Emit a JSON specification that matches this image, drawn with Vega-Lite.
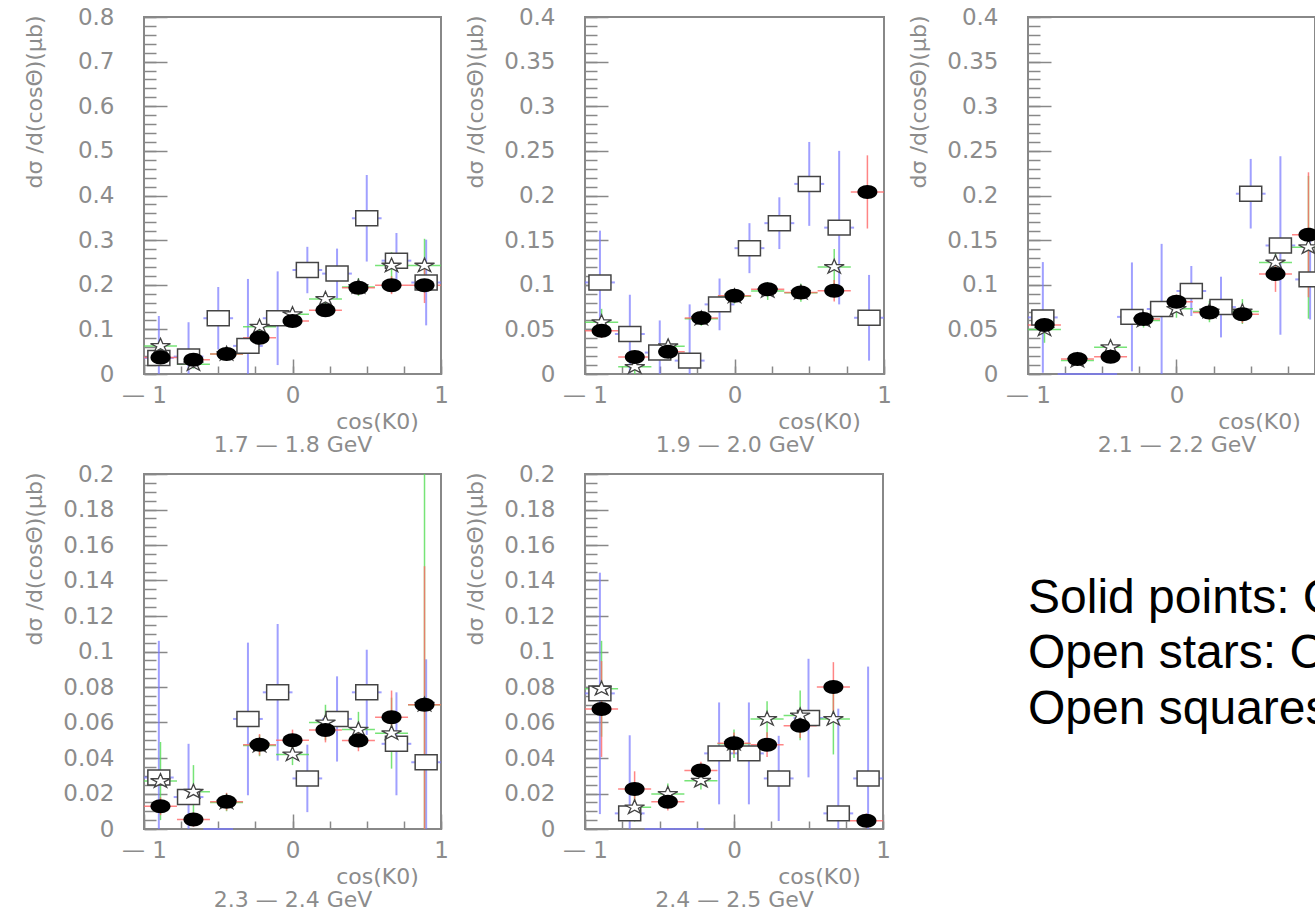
{
"$schema": "https://vega.github.io/schema/vega-lite/v6.json",
"padding": {"left": 22, "top": 5, "right": 0, "bottom": 0},
"config": {
  "view": {"stroke": "#888888", "strokeWidth": 2},
  "font": "DejaVu Sans",
  "axis": {"domain": false, "grid": false, "tickColor": "#888888", "tickWidth": 1.5,
    "labelFont": "DejaVu Sans", "labelFontSize": 23, "labelColor": "#8c8c8c",
    "labelFlush": false, "labelOverlap": false, "labelBound": false,
    "titleFont": "DejaVu Sans", "titleFontSize": 22, "titleColor": "#8c8c8c", "titleFontWeight": "normal", "format": "~g"}
},
"datasets": {
"p1": [
{"s":"solid","x":-0.889,"y":0.037,"e":0.01,"bw":0.111},
{"s":"solid","x":-0.667,"y":0.032,"e":0.008,"bw":0.111},
{"s":"solid","x":-0.444,"y":0.045,"e":0.008,"bw":0.111},
{"s":"solid","x":-0.222,"y":0.081,"e":0.01,"bw":0.111},
{"s":"solid","x":0,"y":0.119,"e":0.01,"bw":0.111},
{"s":"solid","x":0.222,"y":0.143,"e":0.012,"bw":0.111},
{"s":"solid","x":0.444,"y":0.193,"e":0.015,"bw":0.111},
{"s":"solid","x":0.667,"y":0.199,"e":0.02,"bw":0.111},
{"s":"solid","x":0.889,"y":0.199,"e":0.04,"bw":0.111},
{"s":"star","x":-0.889,"y":0.063,"e":0.015,"bw":0.111},
{"s":"star","x":-0.667,"y":0.022,"e":0.01,"bw":0.111},
{"s":"star","x":-0.444,"y":0.045,"e":0.01,"bw":0.111},
{"s":"star","x":-0.222,"y":0.106,"e":0.012,"bw":0.111},
{"s":"star","x":0,"y":0.134,"e":0.012,"bw":0.111},
{"s":"star","x":0.222,"y":0.168,"e":0.015,"bw":0.111},
{"s":"star","x":0.444,"y":0.195,"e":0.02,"bw":0.111},
{"s":"star","x":0.667,"y":0.243,"e":0.03,"bw":0.111},
{"s":"star","x":0.889,"y":0.243,"e":0.06,"bw":0.111},
{"s":"square","x":-0.9,"y":0.036,"e":0.094,"bw":0.1},
{"s":"square","x":-0.7,"y":0.039,"e":0.077,"bw":0.1},
{"s":"square","x":-0.5,"y":0.125,"e":0.07,"bw":0.1},
{"s":"square","x":-0.3,"y":0.063,"e":0.15,"bw":0.1},
{"s":"square","x":-0.1,"y":0.125,"e":0.105,"bw":0.1},
{"s":"square","x":0.1,"y":0.233,"e":0.052,"bw":0.1},
{"s":"square","x":0.3,"y":0.225,"e":0.056,"bw":0.1},
{"s":"square","x":0.5,"y":0.349,"e":0.097,"bw":0.1},
{"s":"square","x":0.7,"y":0.254,"e":0.062,"bw":0.1},
{"s":"square","x":0.9,"y":0.205,"e":0.096,"bw":0.1}
],
"p2": [
{"s":"solid","x":-0.889,"y":0.0485,"e":0.008,"bw":0.111},
{"s":"solid","x":-0.667,"y":0.019,"e":0.005,"bw":0.111},
{"s":"solid","x":-0.444,"y":0.025,"e":0.006,"bw":0.111},
{"s":"solid","x":-0.222,"y":0.0627,"e":0.006,"bw":0.111},
{"s":"solid","x":0,"y":0.0877,"e":0.006,"bw":0.111},
{"s":"solid","x":0.222,"y":0.095,"e":0.007,"bw":0.111},
{"s":"solid","x":0.444,"y":0.0914,"e":0.008,"bw":0.111},
{"s":"solid","x":0.667,"y":0.0933,"e":0.012,"bw":0.111},
{"s":"solid","x":0.889,"y":0.204,"e":0.041,"bw":0.111},
{"s":"star","x":-0.889,"y":0.058,"e":0.015,"bw":0.111},
{"s":"star","x":-0.667,"y":0.008,"e":0.008,"bw":0.111},
{"s":"star","x":-0.444,"y":0.031,"e":0.008,"bw":0.111},
{"s":"star","x":-0.222,"y":0.062,"e":0.008,"bw":0.111},
{"s":"star","x":0,"y":0.087,"e":0.008,"bw":0.111},
{"s":"star","x":0.222,"y":0.093,"e":0.01,"bw":0.111},
{"s":"star","x":0.444,"y":0.091,"e":0.01,"bw":0.111},
{"s":"star","x":0.667,"y":0.12,"e":0.02,"bw":0.111},
{"s":"square","x":-0.9,"y":0.1026,"e":0.058,"bw":0.1},
{"s":"square","x":-0.7,"y":0.0448,"e":0.044,"bw":0.1},
{"s":"square","x":-0.5,"y":0.024,"e":0.036,"bw":0.1},
{"s":"square","x":-0.3,"y":0.015,"e":0.063,"bw":0.1},
{"s":"square","x":-0.1,"y":0.078,"e":0.029,"bw":0.1},
{"s":"square","x":0.1,"y":0.141,"e":0.028,"bw":0.1},
{"s":"square","x":0.3,"y":0.169,"e":0.029,"bw":0.1},
{"s":"square","x":0.5,"y":0.213,"e":0.047,"bw":0.1},
{"s":"square","x":0.7,"y":0.164,"e":0.086,"bw":0.1},
{"s":"square","x":0.9,"y":0.063,"e":0.048,"bw":0.1}
],
"p3": [
{"s":"solid","x":-0.889,"y":0.0549,"e":0.008,"bw":0.111},
{"s":"solid","x":-0.667,"y":0.0168,"e":0.005,"bw":0.111},
{"s":"solid","x":-0.444,"y":0.0194,"e":0.006,"bw":0.111},
{"s":"solid","x":-0.222,"y":0.0616,"e":0.007,"bw":0.111},
{"s":"solid","x":0,"y":0.081,"e":0.008,"bw":0.111},
{"s":"solid","x":0.222,"y":0.069,"e":0.008,"bw":0.111},
{"s":"solid","x":0.444,"y":0.067,"e":0.01,"bw":0.111},
{"s":"solid","x":0.667,"y":0.112,"e":0.02,"bw":0.111},
{"s":"solid","x":0.889,"y":0.156,"e":0.07,"bw":0.111},
{"s":"star","x":-0.889,"y":0.05,"e":0.015,"bw":0.111},
{"s":"star","x":-0.667,"y":0.015,"e":0.006,"bw":0.111},
{"s":"star","x":-0.444,"y":0.03,"e":0.008,"bw":0.111},
{"s":"star","x":-0.222,"y":0.06,"e":0.008,"bw":0.111},
{"s":"star","x":0,"y":0.073,"e":0.01,"bw":0.111},
{"s":"star","x":0.222,"y":0.07,"e":0.012,"bw":0.111},
{"s":"star","x":0.444,"y":0.07,"e":0.014,"bw":0.111},
{"s":"star","x":0.667,"y":0.125,"e":0.02,"bw":0.111},
{"s":"star","x":0.889,"y":0.142,"e":0.08,"bw":0.111},
{"s":"square","x":-0.9,"y":0.0634,"e":0.062,"bw":0.1},
{"s":"square","x":-0.7,"y":0,"e":0,"bw":0.1},
{"s":"square","x":-0.5,"y":0,"e":0,"bw":0.1},
{"s":"square","x":-0.3,"y":0.064,"e":0.061,"bw":0.1},
{"s":"square","x":-0.1,"y":0.0728,"e":0.073,"bw":0.1},
{"s":"square","x":0.1,"y":0.093,"e":0.028,"bw":0.1},
{"s":"square","x":0.3,"y":0.075,"e":0.034,"bw":0.1},
{"s":"square","x":0.5,"y":0.202,"e":0.039,"bw":0.1},
{"s":"square","x":0.7,"y":0.144,"e":0.1,"bw":0.1},
{"s":"square","x":0.9,"y":0.106,"e":0.045,"bw":0.1}
],
"p4": [
{"s":"solid","x":-0.889,"y":0.0128,"e":0.005,"bw":0.111},
{"s":"solid","x":-0.667,"y":0.0053,"e":0.004,"bw":0.111},
{"s":"solid","x":-0.444,"y":0.0154,"e":0.005,"bw":0.111},
{"s":"solid","x":-0.222,"y":0.0475,"e":0.006,"bw":0.111},
{"s":"solid","x":0,"y":0.05,"e":0.006,"bw":0.111},
{"s":"solid","x":0.222,"y":0.0558,"e":0.007,"bw":0.111},
{"s":"solid","x":0.444,"y":0.0498,"e":0.006,"bw":0.111},
{"s":"solid","x":0.667,"y":0.063,"e":0.015,"bw":0.111},
{"s":"solid","x":0.889,"y":0.07,"e":0.078,"bw":0.111},
{"s":"star","x":-0.889,"y":0.027,"e":0.022,"bw":0.111},
{"s":"star","x":-0.667,"y":0.021,"e":0.015,"bw":0.111},
{"s":"star","x":-0.444,"y":0.015,"e":0.005,"bw":0.111},
{"s":"star","x":-0.222,"y":0.047,"e":0.006,"bw":0.111},
{"s":"star","x":0,"y":0.042,"e":0.006,"bw":0.111},
{"s":"star","x":0.222,"y":0.06,"e":0.01,"bw":0.111},
{"s":"star","x":0.444,"y":0.056,"e":0.01,"bw":0.111},
{"s":"star","x":0.667,"y":0.054,"e":0.02,"bw":0.111},
{"s":"star","x":0.889,"y":0.07,"e":0.2,"bw":0.111},
{"s":"square","x":-0.9,"y":0.029,"e":0.077,"bw":0.1},
{"s":"square","x":-0.7,"y":0.018,"e":0.03,"bw":0.1},
{"s":"square","x":-0.5,"y":0,"e":0,"bw":0.1},
{"s":"square","x":-0.3,"y":0.062,"e":0.043,"bw":0.1},
{"s":"square","x":-0.1,"y":0.077,"e":0.0385,"bw":0.1},
{"s":"square","x":0.1,"y":0.0285,"e":0.019,"bw":0.1},
{"s":"square","x":0.3,"y":0.062,"e":0.024,"bw":0.1},
{"s":"square","x":0.5,"y":0.077,"e":0.024,"bw":0.1},
{"s":"square","x":0.7,"y":0.048,"e":0.029,"bw":0.1},
{"s":"square","x":0.9,"y":0.0376,"e":0.058,"bw":0.1}
],
"p5": [
{"s":"solid","x":-0.889,"y":0.0676,"e":0.027,"bw":0.111},
{"s":"solid","x":-0.667,"y":0.0225,"e":0.01,"bw":0.111},
{"s":"solid","x":-0.444,"y":0.0154,"e":0.005,"bw":0.111},
{"s":"solid","x":-0.222,"y":0.0329,"e":0.005,"bw":0.111},
{"s":"solid","x":0,"y":0.0483,"e":0.006,"bw":0.111},
{"s":"solid","x":0.222,"y":0.0475,"e":0.007,"bw":0.111},
{"s":"solid","x":0.444,"y":0.0582,"e":0.007,"bw":0.111},
{"s":"solid","x":0.667,"y":0.08,"e":0.014,"bw":0.111},
{"s":"solid","x":0.889,"y":0.0047,"e":0.004,"bw":0.111},
{"s":"star","x":-0.889,"y":0.079,"e":0.027,"bw":0.111},
{"s":"star","x":-0.667,"y":0.0122,"e":0.008,"bw":0.111},
{"s":"star","x":-0.444,"y":0.0197,"e":0.006,"bw":0.111},
{"s":"star","x":-0.222,"y":0.0272,"e":0.005,"bw":0.111},
{"s":"star","x":0,"y":0.048,"e":0.008,"bw":0.111},
{"s":"star","x":0.222,"y":0.062,"e":0.01,"bw":0.111},
{"s":"star","x":0.444,"y":0.064,"e":0.014,"bw":0.111},
{"s":"star","x":0.667,"y":0.062,"e":0.02,"bw":0.111},
{"s":"square","x":-0.9,"y":0.0764,"e":0.068,"bw":0.1},
{"s":"square","x":-0.7,"y":0.0088,"e":0.044,"bw":0.1},
{"s":"square","x":-0.5,"y":0,"e":0,"bw":0.1},
{"s":"square","x":-0.3,"y":0,"e":0,"bw":0.1},
{"s":"square","x":-0.1,"y":0.0426,"e":0.0287,"bw":0.1},
{"s":"square","x":0.1,"y":0.0426,"e":0.0287,"bw":0.1},
{"s":"square","x":0.3,"y":0.0285,"e":0.024,"bw":0.1},
{"s":"square","x":0.5,"y":0.0625,"e":0.0334,"bw":0.1},
{"s":"square","x":0.7,"y":0.0088,"e":0.059,"bw":0.1},
{"s":"square","x":0.9,"y":0.0285,"e":0.063,"bw":0.1}
]
},
"columns": 3,
"spacing": {"row": 100, "column": 144},
"bounds": "flush",
"concat": [
{
 "width": 297, "height": 357, "data": {"name": "p1"},
 "resolve": {"axis": {"x": "independent", "y": "independent"}},
 "layer": [
  {"transform": [{"filter": "datum.s == 'square'"}], "mark": {"type": "errorbar", "color": "#7878ff", "thickness": 2, "opacity": 0.7},
   "encoding": {"x": {"field": "x", "type": "quantitative", "scale": {"domain": [-1, 1], "nice": false, "zero": false, "clamp": true},
      "axis": {"orient": "bottom", "values": [-1, 0, 1], "tickSize": -15, "labelPadding": 25, "labelExpr": "datum.value == -1 ? '— 1' : datum.label", "title": "cos(K0)", "titleX": 233, "titleY": 47, "titleAlign": "center", "titleBaseline": "middle"}},
    "y": {"field": "y", "type": "quantitative", "scale": {"domain": [0, 0.8], "nice": false, "zero": false, "clamp": true},
      "axis": {"orient": "left", "values": [0, 0.1, 0.2, 0.3, 0.4, 0.5, 0.6, 0.7, 0.8], "tickSize": -23, "labelPadding": 53, "title": "dσ /d(cosΘ)(μb)", "titleX": -110, "titleY": -2, "titleAngle": 270, "titleAlign": "right", "titleBaseline": "middle"}},
    "yError": {"field": "e"}}},
  {"transform": [{"filter": "datum.s == 'square'"}], "mark": {"type": "errorbar", "color": "#7878ff", "thickness": 2, "opacity": 0.7},
   "encoding": {"x": {"field": "x", "type": "quantitative", "scale": {"domain": [-1, 1], "nice": false, "zero": false, "clamp": true},
      "axis": {"orient": "bottom", "values": [-1, -0.75, -0.5, -0.25, 0, 0.25, 0.5, 0.75, 1], "tickSize": -8, "labels": false, "title": "1.7 — 1.8 GeV", "titleX": 148.5, "titleY": 70, "titleAlign": "center", "titleBaseline": "middle"}},
    "xError": {"field": "bw"},
    "y": {"field": "y", "type": "quantitative", "scale": {"domain": [0, 0.8], "nice": false, "zero": false, "clamp": true},
      "axis": {"orient": "left", "values": [0,0.02,0.04,0.06,0.08,0.1,0.12,0.14,0.16,0.18,0.2,0.22,0.24,0.26,0.28,0.3,0.32,0.34,0.36,0.38,0.4,0.42,0.44,0.46,0.48,0.5,0.52,0.54,0.56,0.58,0.6,0.62,0.64,0.66,0.68,0.7,0.72,0.74,0.76,0.78,0.8], "tickSize": -12, "labels": false, "title": null}}}},
  {"transform": [{"filter": "datum.s == 'star'"}], "mark": {"type": "errorbar", "color": "#55dd55", "thickness": 1.5, "opacity": 0.8},
   "encoding": {"x": {"field": "x", "type": "quantitative", "scale": {"domain": [-1, 1], "nice": false, "zero": false, "clamp": true}, "axis": null},
    "y": {"field": "y", "type": "quantitative", "scale": {"domain": [0, 0.8], "nice": false, "zero": false, "clamp": true}, "axis": null}, "yError": {"field": "e"}}},
  {"transform": [{"filter": "datum.s == 'star'"}], "mark": {"type": "errorbar", "color": "#55dd55", "thickness": 1.5, "opacity": 0.8},
   "encoding": {"x": {"field": "x", "type": "quantitative", "scale": {"domain": [-1, 1], "nice": false, "zero": false, "clamp": true}, "axis": null}, "xError": {"field": "bw"},
    "y": {"field": "y", "type": "quantitative", "scale": {"domain": [0, 0.8], "nice": false, "zero": false, "clamp": true}, "axis": null}}},
  {"transform": [{"filter": "datum.s == 'solid'"}], "mark": {"type": "errorbar", "color": "#ff6666", "thickness": 1.5, "opacity": 0.8},
   "encoding": {"x": {"field": "x", "type": "quantitative", "scale": {"domain": [-1, 1], "nice": false, "zero": false, "clamp": true}, "axis": null},
    "y": {"field": "y", "type": "quantitative", "scale": {"domain": [0, 0.8], "nice": false, "zero": false, "clamp": true}, "axis": null}, "yError": {"field": "e"}}},
  {"transform": [{"filter": "datum.s == 'solid'"}], "mark": {"type": "errorbar", "color": "#ff6666", "thickness": 1.5, "opacity": 0.8},
   "encoding": {"x": {"field": "x", "type": "quantitative", "scale": {"domain": [-1, 1], "nice": false, "zero": false, "clamp": true}, "axis": null}, "xError": {"field": "bw"},
    "y": {"field": "y", "type": "quantitative", "scale": {"domain": [0, 0.8], "nice": false, "zero": false, "clamp": true}, "axis": null}}},
  {"transform": [{"filter": "datum.s == 'square' && datum.y > 0"}], "mark": {"type": "point", "shape": "M-1,-0.68H1V0.68H-1Z", "size": 484, "filled": true, "fill": "white", "stroke": "#444444", "strokeWidth": 1.5, "opacity": 1},
   "encoding": {"x": {"field": "x", "type": "quantitative", "scale": {"domain": [-1, 1], "nice": false, "zero": false, "clamp": true}, "axis": null},
    "y": {"field": "y", "type": "quantitative", "scale": {"domain": [0, 0.8], "nice": false, "zero": false, "clamp": true}, "axis": null}}},
  {"transform": [{"filter": "datum.s == 'star'"}], "mark": {"type": "point", "shape": "M0,-0.72L0.22,-0.22L0.95,-0.22L0.36,0.08L0.59,0.58L0,0.27L-0.59,0.58L-0.36,0.08L-0.95,-0.22L-0.22,-0.22Z", "size": 441, "filled": true, "fill": "white", "stroke": "#444444", "strokeWidth": 1.3, "opacity": 1},
   "encoding": {"x": {"field": "x", "type": "quantitative", "scale": {"domain": [-1, 1], "nice": false, "zero": false, "clamp": true}, "axis": null},
    "y": {"field": "y", "type": "quantitative", "scale": {"domain": [0, 0.8], "nice": false, "zero": false, "clamp": true}, "axis": null}}},
  {"transform": [{"filter": "datum.s == 'solid'"}], "mark": {"type": "point", "shape": "M-1,0A1,0.7,0,1,0,1,0A1,0.7,0,1,0,-1,0Z", "size": 400, "filled": true, "color": "black", "opacity": 1},
   "encoding": {"x": {"field": "x", "type": "quantitative", "scale": {"domain": [-1, 1], "nice": false, "zero": false, "clamp": true}, "axis": null},
    "y": {"field": "y", "type": "quantitative", "scale": {"domain": [0, 0.8], "nice": false, "zero": false, "clamp": true}, "axis": null}}}
 ]
},
{
 "width": 299, "height": 357, "data": {"name": "p2"},
 "resolve": {"axis": {"x": "independent", "y": "independent"}},
 "layer": [
  {"transform": [{"filter": "datum.s == 'square'"}], "mark": {"type": "errorbar", "color": "#7878ff", "thickness": 2, "opacity": 0.7},
   "encoding": {"x": {"field": "x", "type": "quantitative", "scale": {"domain": [-1, 1], "nice": false, "zero": false, "clamp": true},
      "axis": {"orient": "bottom", "values": [-1, 0, 1], "tickSize": -15, "labelPadding": 25, "labelExpr": "datum.value == -1 ? '— 1' : datum.label", "title": "cos(K0)", "titleX": 234, "titleY": 47, "titleAlign": "center", "titleBaseline": "middle"}},
    "y": {"field": "y", "type": "quantitative", "scale": {"domain": [0, 0.4], "nice": false, "zero": false, "clamp": true},
      "axis": {"orient": "left", "values": [0, 0.05, 0.1, 0.15, 0.2, 0.25, 0.3, 0.35, 0.4], "tickSize": -23, "labelPadding": 53, "title": "dσ /d(cosΘ)(μb)", "titleX": -110, "titleY": -2, "titleAngle": 270, "titleAlign": "right", "titleBaseline": "middle"}},
    "yError": {"field": "e"}}},
  {"transform": [{"filter": "datum.s == 'square'"}], "mark": {"type": "errorbar", "color": "#7878ff", "thickness": 2, "opacity": 0.7},
   "encoding": {"x": {"field": "x", "type": "quantitative", "scale": {"domain": [-1, 1], "nice": false, "zero": false, "clamp": true},
      "axis": {"orient": "bottom", "values": [-1, -0.75, -0.5, -0.25, 0, 0.25, 0.5, 0.75, 1], "tickSize": -8, "labels": false, "title": "1.9 — 2.0 GeV", "titleX": 149.5, "titleY": 70, "titleAlign": "center", "titleBaseline": "middle"}},
    "xError": {"field": "bw"},
    "y": {"field": "y", "type": "quantitative", "scale": {"domain": [0, 0.4], "nice": false, "zero": false, "clamp": true},
      "axis": {"orient": "left", "values": [0,0.01,0.02,0.03,0.04,0.05,0.06,0.07,0.08,0.09,0.1,0.11,0.12,0.13,0.14,0.15,0.16,0.17,0.18,0.19,0.2,0.21,0.22,0.23,0.24,0.25,0.26,0.27,0.28,0.29,0.3,0.31,0.32,0.33,0.34,0.35,0.36,0.37,0.38,0.39,0.4], "tickSize": -12, "labels": false, "title": null}}}},
  {"transform": [{"filter": "datum.s == 'star'"}], "mark": {"type": "errorbar", "color": "#55dd55", "thickness": 1.5, "opacity": 0.8},
   "encoding": {"x": {"field": "x", "type": "quantitative", "scale": {"domain": [-1, 1], "nice": false, "zero": false, "clamp": true}, "axis": null},
    "y": {"field": "y", "type": "quantitative", "scale": {"domain": [0, 0.4], "nice": false, "zero": false, "clamp": true}, "axis": null}, "yError": {"field": "e"}}},
  {"transform": [{"filter": "datum.s == 'star'"}], "mark": {"type": "errorbar", "color": "#55dd55", "thickness": 1.5, "opacity": 0.8},
   "encoding": {"x": {"field": "x", "type": "quantitative", "scale": {"domain": [-1, 1], "nice": false, "zero": false, "clamp": true}, "axis": null}, "xError": {"field": "bw"},
    "y": {"field": "y", "type": "quantitative", "scale": {"domain": [0, 0.4], "nice": false, "zero": false, "clamp": true}, "axis": null}}},
  {"transform": [{"filter": "datum.s == 'solid'"}], "mark": {"type": "errorbar", "color": "#ff6666", "thickness": 1.5, "opacity": 0.8},
   "encoding": {"x": {"field": "x", "type": "quantitative", "scale": {"domain": [-1, 1], "nice": false, "zero": false, "clamp": true}, "axis": null},
    "y": {"field": "y", "type": "quantitative", "scale": {"domain": [0, 0.4], "nice": false, "zero": false, "clamp": true}, "axis": null}, "yError": {"field": "e"}}},
  {"transform": [{"filter": "datum.s == 'solid'"}], "mark": {"type": "errorbar", "color": "#ff6666", "thickness": 1.5, "opacity": 0.8},
   "encoding": {"x": {"field": "x", "type": "quantitative", "scale": {"domain": [-1, 1], "nice": false, "zero": false, "clamp": true}, "axis": null}, "xError": {"field": "bw"},
    "y": {"field": "y", "type": "quantitative", "scale": {"domain": [0, 0.4], "nice": false, "zero": false, "clamp": true}, "axis": null}}},
  {"transform": [{"filter": "datum.s == 'square' && datum.y > 0"}], "mark": {"type": "point", "shape": "M-1,-0.68H1V0.68H-1Z", "size": 484, "filled": true, "fill": "white", "stroke": "#444444", "strokeWidth": 1.5, "opacity": 1},
   "encoding": {"x": {"field": "x", "type": "quantitative", "scale": {"domain": [-1, 1], "nice": false, "zero": false, "clamp": true}, "axis": null},
    "y": {"field": "y", "type": "quantitative", "scale": {"domain": [0, 0.4], "nice": false, "zero": false, "clamp": true}, "axis": null}}},
  {"transform": [{"filter": "datum.s == 'star'"}], "mark": {"type": "point", "shape": "M0,-0.72L0.22,-0.22L0.95,-0.22L0.36,0.08L0.59,0.58L0,0.27L-0.59,0.58L-0.36,0.08L-0.95,-0.22L-0.22,-0.22Z", "size": 441, "filled": true, "fill": "white", "stroke": "#444444", "strokeWidth": 1.3, "opacity": 1},
   "encoding": {"x": {"field": "x", "type": "quantitative", "scale": {"domain": [-1, 1], "nice": false, "zero": false, "clamp": true}, "axis": null},
    "y": {"field": "y", "type": "quantitative", "scale": {"domain": [0, 0.4], "nice": false, "zero": false, "clamp": true}, "axis": null}}},
  {"transform": [{"filter": "datum.s == 'solid'"}], "mark": {"type": "point", "shape": "M-1,0A1,0.7,0,1,0,1,0A1,0.7,0,1,0,-1,0Z", "size": 400, "filled": true, "color": "black", "opacity": 1},
   "encoding": {"x": {"field": "x", "type": "quantitative", "scale": {"domain": [-1, 1], "nice": false, "zero": false, "clamp": true}, "axis": null},
    "y": {"field": "y", "type": "quantitative", "scale": {"domain": [0, 0.4], "nice": false, "zero": false, "clamp": true}, "axis": null}}}
 ]
},
{
 "width": 287, "height": 357, "data": {"name": "p3"},
 "resolve": {"axis": {"x": "independent", "y": "independent"}},
 "layer": [
  {"transform": [{"filter": "datum.s == 'square'"}], "mark": {"type": "errorbar", "color": "#7878ff", "thickness": 2, "opacity": 0.7},
   "encoding": {"x": {"field": "x", "type": "quantitative", "scale": {"domain": [-1, 0.933], "nice": false, "zero": false, "clamp": true},
      "axis": {"orient": "bottom", "values": [-1, 0], "tickSize": -15, "labelPadding": 25, "labelExpr": "datum.value == -1 ? '— 1' : datum.label", "title": "cos(K0)", "titleX": 231, "titleY": 47, "titleAlign": "center", "titleBaseline": "middle"}},
    "y": {"field": "y", "type": "quantitative", "scale": {"domain": [0, 0.4], "nice": false, "zero": false, "clamp": true},
      "axis": {"orient": "left", "values": [0, 0.05, 0.1, 0.15, 0.2, 0.25, 0.3, 0.35, 0.4], "tickSize": -23, "labelPadding": 53, "title": "dσ /d(cosΘ)(μb)", "titleX": -110, "titleY": -2, "titleAngle": 270, "titleAlign": "right", "titleBaseline": "middle"}},
    "yError": {"field": "e"}}},
  {"transform": [{"filter": "datum.s == 'square'"}], "mark": {"type": "errorbar", "color": "#7878ff", "thickness": 2, "opacity": 0.7},
   "encoding": {"x": {"field": "x", "type": "quantitative", "scale": {"domain": [-1, 0.933], "nice": false, "zero": false, "clamp": true},
      "axis": {"orient": "bottom", "values": [-1, -0.75, -0.5, -0.25, 0, 0.25, 0.5, 0.75], "tickSize": -8, "labels": false, "title": "2.1 — 2.2 GeV", "titleX": 148.5, "titleY": 70, "titleAlign": "center", "titleBaseline": "middle"}},
    "xError": {"field": "bw"},
    "y": {"field": "y", "type": "quantitative", "scale": {"domain": [0, 0.4], "nice": false, "zero": false, "clamp": true},
      "axis": {"orient": "left", "values": [0,0.01,0.02,0.03,0.04,0.05,0.06,0.07,0.08,0.09,0.1,0.11,0.12,0.13,0.14,0.15,0.16,0.17,0.18,0.19,0.2,0.21,0.22,0.23,0.24,0.25,0.26,0.27,0.28,0.29,0.3,0.31,0.32,0.33,0.34,0.35,0.36,0.37,0.38,0.39,0.4], "tickSize": -12, "labels": false, "title": null}}}},
  {"transform": [{"filter": "datum.s == 'star'"}], "mark": {"type": "errorbar", "color": "#55dd55", "thickness": 1.5, "opacity": 0.8},
   "encoding": {"x": {"field": "x", "type": "quantitative", "scale": {"domain": [-1, 0.933], "nice": false, "zero": false, "clamp": true}, "axis": null},
    "y": {"field": "y", "type": "quantitative", "scale": {"domain": [0, 0.4], "nice": false, "zero": false, "clamp": true}, "axis": null}, "yError": {"field": "e"}}},
  {"transform": [{"filter": "datum.s == 'star'"}], "mark": {"type": "errorbar", "color": "#55dd55", "thickness": 1.5, "opacity": 0.8},
   "encoding": {"x": {"field": "x", "type": "quantitative", "scale": {"domain": [-1, 0.933], "nice": false, "zero": false, "clamp": true}, "axis": null}, "xError": {"field": "bw"},
    "y": {"field": "y", "type": "quantitative", "scale": {"domain": [0, 0.4], "nice": false, "zero": false, "clamp": true}, "axis": null}}},
  {"transform": [{"filter": "datum.s == 'solid'"}], "mark": {"type": "errorbar", "color": "#ff6666", "thickness": 1.5, "opacity": 0.8},
   "encoding": {"x": {"field": "x", "type": "quantitative", "scale": {"domain": [-1, 0.933], "nice": false, "zero": false, "clamp": true}, "axis": null},
    "y": {"field": "y", "type": "quantitative", "scale": {"domain": [0, 0.4], "nice": false, "zero": false, "clamp": true}, "axis": null}, "yError": {"field": "e"}}},
  {"transform": [{"filter": "datum.s == 'solid'"}], "mark": {"type": "errorbar", "color": "#ff6666", "thickness": 1.5, "opacity": 0.8},
   "encoding": {"x": {"field": "x", "type": "quantitative", "scale": {"domain": [-1, 0.933], "nice": false, "zero": false, "clamp": true}, "axis": null}, "xError": {"field": "bw"},
    "y": {"field": "y", "type": "quantitative", "scale": {"domain": [0, 0.4], "nice": false, "zero": false, "clamp": true}, "axis": null}}},
  {"transform": [{"filter": "datum.s == 'square' && datum.y > 0"}], "mark": {"type": "point", "clip": true, "shape": "M-1,-0.68H1V0.68H-1Z", "size": 484, "filled": true, "fill": "white", "stroke": "#444444", "strokeWidth": 1.5, "opacity": 1},
   "encoding": {"x": {"field": "x", "type": "quantitative", "scale": {"domain": [-1, 0.933], "nice": false, "zero": false, "clamp": true}, "axis": null},
    "y": {"field": "y", "type": "quantitative", "scale": {"domain": [0, 0.4], "nice": false, "zero": false, "clamp": true}, "axis": null}}},
  {"transform": [{"filter": "datum.s == 'star'"}], "mark": {"type": "point", "clip": true, "shape": "M0,-0.72L0.22,-0.22L0.95,-0.22L0.36,0.08L0.59,0.58L0,0.27L-0.59,0.58L-0.36,0.08L-0.95,-0.22L-0.22,-0.22Z", "size": 441, "filled": true, "fill": "white", "stroke": "#444444", "strokeWidth": 1.3, "opacity": 1},
   "encoding": {"x": {"field": "x", "type": "quantitative", "scale": {"domain": [-1, 0.933], "nice": false, "zero": false, "clamp": true}, "axis": null},
    "y": {"field": "y", "type": "quantitative", "scale": {"domain": [0, 0.4], "nice": false, "zero": false, "clamp": true}, "axis": null}}},
  {"transform": [{"filter": "datum.s == 'solid'"}], "mark": {"type": "point", "clip": true, "shape": "M-1,0A1,0.7,0,1,0,1,0A1,0.7,0,1,0,-1,0Z", "size": 400, "filled": true, "color": "black", "opacity": 1},
   "encoding": {"x": {"field": "x", "type": "quantitative", "scale": {"domain": [-1, 0.933], "nice": false, "zero": false, "clamp": true}, "axis": null},
    "y": {"field": "y", "type": "quantitative", "scale": {"domain": [0, 0.4], "nice": false, "zero": false, "clamp": true}, "axis": null}}}
 ]
},
{
 "width": 297, "height": 355, "data": {"name": "p4"},
 "resolve": {"axis": {"x": "independent", "y": "independent"}},
 "layer": [
  {"transform": [{"filter": "datum.s == 'square'"}], "mark": {"type": "errorbar", "color": "#7878ff", "thickness": 2, "opacity": 0.7},
   "encoding": {"x": {"field": "x", "type": "quantitative", "scale": {"domain": [-1, 1], "nice": false, "zero": false, "clamp": true},
      "axis": {"orient": "bottom", "values": [-1, 0, 1], "tickSize": -15, "labelPadding": 25, "labelExpr": "datum.value == -1 ? '— 1' : datum.label", "title": "cos(K0)", "titleX": 233, "titleY": 47, "titleAlign": "center", "titleBaseline": "middle"}},
    "y": {"field": "y", "type": "quantitative", "scale": {"domain": [0, 0.2], "nice": false, "zero": false, "clamp": true},
      "axis": {"orient": "left", "values": [0, 0.02, 0.04, 0.06, 0.08, 0.1, 0.12, 0.14, 0.16, 0.18, 0.2], "tickSize": -23, "labelPadding": 53, "title": "dσ /d(cosΘ)(μb)", "titleX": -110, "titleY": -2, "titleAngle": 270, "titleAlign": "right", "titleBaseline": "middle"}},
    "yError": {"field": "e"}}},
  {"transform": [{"filter": "datum.s == 'square'"}], "mark": {"type": "errorbar", "color": "#7878ff", "thickness": 2, "opacity": 0.7},
   "encoding": {"x": {"field": "x", "type": "quantitative", "scale": {"domain": [-1, 1], "nice": false, "zero": false, "clamp": true},
      "axis": {"orient": "bottom", "values": [-1, -0.75, -0.5, -0.25, 0, 0.25, 0.5, 0.75, 1], "tickSize": -8, "labels": false, "title": "2.3 — 2.4 GeV", "titleX": 148.5, "titleY": 70, "titleAlign": "center", "titleBaseline": "middle"}},
    "xError": {"field": "bw"},
    "y": {"field": "y", "type": "quantitative", "scale": {"domain": [0, 0.2], "nice": false, "zero": false, "clamp": true},
      "axis": {"orient": "left", "values": [0,0.005,0.01,0.015,0.02,0.025,0.03,0.035,0.04,0.045,0.05,0.055,0.06,0.065,0.07,0.075,0.08,0.085,0.09,0.095,0.1,0.105,0.11,0.115,0.12,0.125,0.13,0.135,0.14,0.145,0.15,0.155,0.16,0.165,0.17,0.175,0.18,0.185,0.19,0.195,0.2], "tickSize": -12, "labels": false, "title": null}}}},
  {"transform": [{"filter": "datum.s == 'star'"}], "mark": {"type": "errorbar", "color": "#55dd55", "thickness": 1.5, "opacity": 0.8},
   "encoding": {"x": {"field": "x", "type": "quantitative", "scale": {"domain": [-1, 1], "nice": false, "zero": false, "clamp": true}, "axis": null},
    "y": {"field": "y", "type": "quantitative", "scale": {"domain": [0, 0.2], "nice": false, "zero": false, "clamp": true}, "axis": null}, "yError": {"field": "e"}}},
  {"transform": [{"filter": "datum.s == 'star'"}], "mark": {"type": "errorbar", "color": "#55dd55", "thickness": 1.5, "opacity": 0.8},
   "encoding": {"x": {"field": "x", "type": "quantitative", "scale": {"domain": [-1, 1], "nice": false, "zero": false, "clamp": true}, "axis": null}, "xError": {"field": "bw"},
    "y": {"field": "y", "type": "quantitative", "scale": {"domain": [0, 0.2], "nice": false, "zero": false, "clamp": true}, "axis": null}}},
  {"transform": [{"filter": "datum.s == 'solid'"}], "mark": {"type": "errorbar", "color": "#ff6666", "thickness": 1.5, "opacity": 0.8},
   "encoding": {"x": {"field": "x", "type": "quantitative", "scale": {"domain": [-1, 1], "nice": false, "zero": false, "clamp": true}, "axis": null},
    "y": {"field": "y", "type": "quantitative", "scale": {"domain": [0, 0.2], "nice": false, "zero": false, "clamp": true}, "axis": null}, "yError": {"field": "e"}}},
  {"transform": [{"filter": "datum.s == 'solid'"}], "mark": {"type": "errorbar", "color": "#ff6666", "thickness": 1.5, "opacity": 0.8},
   "encoding": {"x": {"field": "x", "type": "quantitative", "scale": {"domain": [-1, 1], "nice": false, "zero": false, "clamp": true}, "axis": null}, "xError": {"field": "bw"},
    "y": {"field": "y", "type": "quantitative", "scale": {"domain": [0, 0.2], "nice": false, "zero": false, "clamp": true}, "axis": null}}},
  {"transform": [{"filter": "datum.s == 'square' && datum.y > 0"}], "mark": {"type": "point", "shape": "M-1,-0.68H1V0.68H-1Z", "size": 484, "filled": true, "fill": "white", "stroke": "#444444", "strokeWidth": 1.5, "opacity": 1},
   "encoding": {"x": {"field": "x", "type": "quantitative", "scale": {"domain": [-1, 1], "nice": false, "zero": false, "clamp": true}, "axis": null},
    "y": {"field": "y", "type": "quantitative", "scale": {"domain": [0, 0.2], "nice": false, "zero": false, "clamp": true}, "axis": null}}},
  {"transform": [{"filter": "datum.s == 'star'"}], "mark": {"type": "point", "shape": "M0,-0.72L0.22,-0.22L0.95,-0.22L0.36,0.08L0.59,0.58L0,0.27L-0.59,0.58L-0.36,0.08L-0.95,-0.22L-0.22,-0.22Z", "size": 441, "filled": true, "fill": "white", "stroke": "#444444", "strokeWidth": 1.3, "opacity": 1},
   "encoding": {"x": {"field": "x", "type": "quantitative", "scale": {"domain": [-1, 1], "nice": false, "zero": false, "clamp": true}, "axis": null},
    "y": {"field": "y", "type": "quantitative", "scale": {"domain": [0, 0.2], "nice": false, "zero": false, "clamp": true}, "axis": null}}},
  {"transform": [{"filter": "datum.s == 'solid'"}], "mark": {"type": "point", "shape": "M-1,0A1,0.7,0,1,0,1,0A1,0.7,0,1,0,-1,0Z", "size": 400, "filled": true, "color": "black", "opacity": 1},
   "encoding": {"x": {"field": "x", "type": "quantitative", "scale": {"domain": [-1, 1], "nice": false, "zero": false, "clamp": true}, "axis": null},
    "y": {"field": "y", "type": "quantitative", "scale": {"domain": [0, 0.2], "nice": false, "zero": false, "clamp": true}, "axis": null}}}
 ]
},
{
 "width": 298, "height": 355, "data": {"name": "p5"},
 "resolve": {"axis": {"x": "independent", "y": "independent"}},
 "layer": [
  {"transform": [{"filter": "datum.s == 'square'"}], "mark": {"type": "errorbar", "color": "#7878ff", "thickness": 2, "opacity": 0.7},
   "encoding": {"x": {"field": "x", "type": "quantitative", "scale": {"domain": [-1, 1], "nice": false, "zero": false, "clamp": true},
      "axis": {"orient": "bottom", "values": [-1, 0, 1], "tickSize": -15, "labelPadding": 25, "labelExpr": "datum.value == -1 ? '— 1' : datum.label", "title": "cos(K0)", "titleX": 234, "titleY": 47, "titleAlign": "center", "titleBaseline": "middle"}},
    "y": {"field": "y", "type": "quantitative", "scale": {"domain": [0, 0.2], "nice": false, "zero": false, "clamp": true},
      "axis": {"orient": "left", "values": [0, 0.02, 0.04, 0.06, 0.08, 0.1, 0.12, 0.14, 0.16, 0.18, 0.2], "tickSize": -23, "labelPadding": 53, "title": "dσ /d(cosΘ)(μb)", "titleX": -110, "titleY": -2, "titleAngle": 270, "titleAlign": "right", "titleBaseline": "middle"}},
    "yError": {"field": "e"}}},
  {"transform": [{"filter": "datum.s == 'square'"}], "mark": {"type": "errorbar", "color": "#7878ff", "thickness": 2, "opacity": 0.7},
   "encoding": {"x": {"field": "x", "type": "quantitative", "scale": {"domain": [-1, 1], "nice": false, "zero": false, "clamp": true},
      "axis": {"orient": "bottom", "values": [-1, -0.75, -0.5, -0.25, 0, 0.25, 0.5, 0.75, 1], "tickSize": -8, "labels": false, "title": "2.4 — 2.5 GeV", "titleX": 149, "titleY": 70, "titleAlign": "center", "titleBaseline": "middle"}},
    "xError": {"field": "bw"},
    "y": {"field": "y", "type": "quantitative", "scale": {"domain": [0, 0.2], "nice": false, "zero": false, "clamp": true},
      "axis": {"orient": "left", "values": [0,0.005,0.01,0.015,0.02,0.025,0.03,0.035,0.04,0.045,0.05,0.055,0.06,0.065,0.07,0.075,0.08,0.085,0.09,0.095,0.1,0.105,0.11,0.115,0.12,0.125,0.13,0.135,0.14,0.145,0.15,0.155,0.16,0.165,0.17,0.175,0.18,0.185,0.19,0.195,0.2], "tickSize": -12, "labels": false, "title": null}}}},
  {"transform": [{"filter": "datum.s == 'star'"}], "mark": {"type": "errorbar", "color": "#55dd55", "thickness": 1.5, "opacity": 0.8},
   "encoding": {"x": {"field": "x", "type": "quantitative", "scale": {"domain": [-1, 1], "nice": false, "zero": false, "clamp": true}, "axis": null},
    "y": {"field": "y", "type": "quantitative", "scale": {"domain": [0, 0.2], "nice": false, "zero": false, "clamp": true}, "axis": null}, "yError": {"field": "e"}}},
  {"transform": [{"filter": "datum.s == 'star'"}], "mark": {"type": "errorbar", "color": "#55dd55", "thickness": 1.5, "opacity": 0.8},
   "encoding": {"x": {"field": "x", "type": "quantitative", "scale": {"domain": [-1, 1], "nice": false, "zero": false, "clamp": true}, "axis": null}, "xError": {"field": "bw"},
    "y": {"field": "y", "type": "quantitative", "scale": {"domain": [0, 0.2], "nice": false, "zero": false, "clamp": true}, "axis": null}}},
  {"transform": [{"filter": "datum.s == 'solid'"}], "mark": {"type": "errorbar", "color": "#ff6666", "thickness": 1.5, "opacity": 0.8},
   "encoding": {"x": {"field": "x", "type": "quantitative", "scale": {"domain": [-1, 1], "nice": false, "zero": false, "clamp": true}, "axis": null},
    "y": {"field": "y", "type": "quantitative", "scale": {"domain": [0, 0.2], "nice": false, "zero": false, "clamp": true}, "axis": null}, "yError": {"field": "e"}}},
  {"transform": [{"filter": "datum.s == 'solid'"}], "mark": {"type": "errorbar", "color": "#ff6666", "thickness": 1.5, "opacity": 0.8},
   "encoding": {"x": {"field": "x", "type": "quantitative", "scale": {"domain": [-1, 1], "nice": false, "zero": false, "clamp": true}, "axis": null}, "xError": {"field": "bw"},
    "y": {"field": "y", "type": "quantitative", "scale": {"domain": [0, 0.2], "nice": false, "zero": false, "clamp": true}, "axis": null}}},
  {"transform": [{"filter": "datum.s == 'square' && datum.y > 0"}], "mark": {"type": "point", "shape": "M-1,-0.68H1V0.68H-1Z", "size": 484, "filled": true, "fill": "white", "stroke": "#444444", "strokeWidth": 1.5, "opacity": 1},
   "encoding": {"x": {"field": "x", "type": "quantitative", "scale": {"domain": [-1, 1], "nice": false, "zero": false, "clamp": true}, "axis": null},
    "y": {"field": "y", "type": "quantitative", "scale": {"domain": [0, 0.2], "nice": false, "zero": false, "clamp": true}, "axis": null}}},
  {"transform": [{"filter": "datum.s == 'star'"}], "mark": {"type": "point", "shape": "M0,-0.72L0.22,-0.22L0.95,-0.22L0.36,0.08L0.59,0.58L0,0.27L-0.59,0.58L-0.36,0.08L-0.95,-0.22L-0.22,-0.22Z", "size": 441, "filled": true, "fill": "white", "stroke": "#444444", "strokeWidth": 1.3, "opacity": 1},
   "encoding": {"x": {"field": "x", "type": "quantitative", "scale": {"domain": [-1, 1], "nice": false, "zero": false, "clamp": true}, "axis": null},
    "y": {"field": "y", "type": "quantitative", "scale": {"domain": [0, 0.2], "nice": false, "zero": false, "clamp": true}, "axis": null}}},
  {"transform": [{"filter": "datum.s == 'solid'"}], "mark": {"type": "point", "shape": "M-1,0A1,0.7,0,1,0,1,0A1,0.7,0,1,0,-1,0Z", "size": 400, "filled": true, "color": "black", "opacity": 1},
   "encoding": {"x": {"field": "x", "type": "quantitative", "scale": {"domain": [-1, 1], "nice": false, "zero": false, "clamp": true}, "axis": null},
    "y": {"field": "y", "type": "quantitative", "scale": {"domain": [0, 0.2], "nice": false, "zero": false, "clamp": true}, "axis": null}}}
 ]
},
{
 "width": 288, "height": 355,
 "view": {"stroke": null},
 "data": {"values": [
   {"line": 1, "t": "Solid points: C"},
   {"line": 2, "t": "Open stars: C"},
   {"line": 3, "t": "Open squares"}
 ]},
 "mark": {"type": "text", "clip": true, "align": "left", "baseline": "alphabetic", "font": "Liberation Sans", "fontSize": 48, "color": "black"},
 "encoding": {
   "x": {"datum": 0, "type": "quantitative", "scale": {"domain": [0, 1], "nice": false, "zero": false}, "axis": null},
   "y": {"field": "line", "type": "quantitative", "scale": {"domain": [-1.5, 4.9], "reverse": true, "nice": false, "zero": false}, "axis": null},
   "text": {"field": "t"}
 }
}
]
}
